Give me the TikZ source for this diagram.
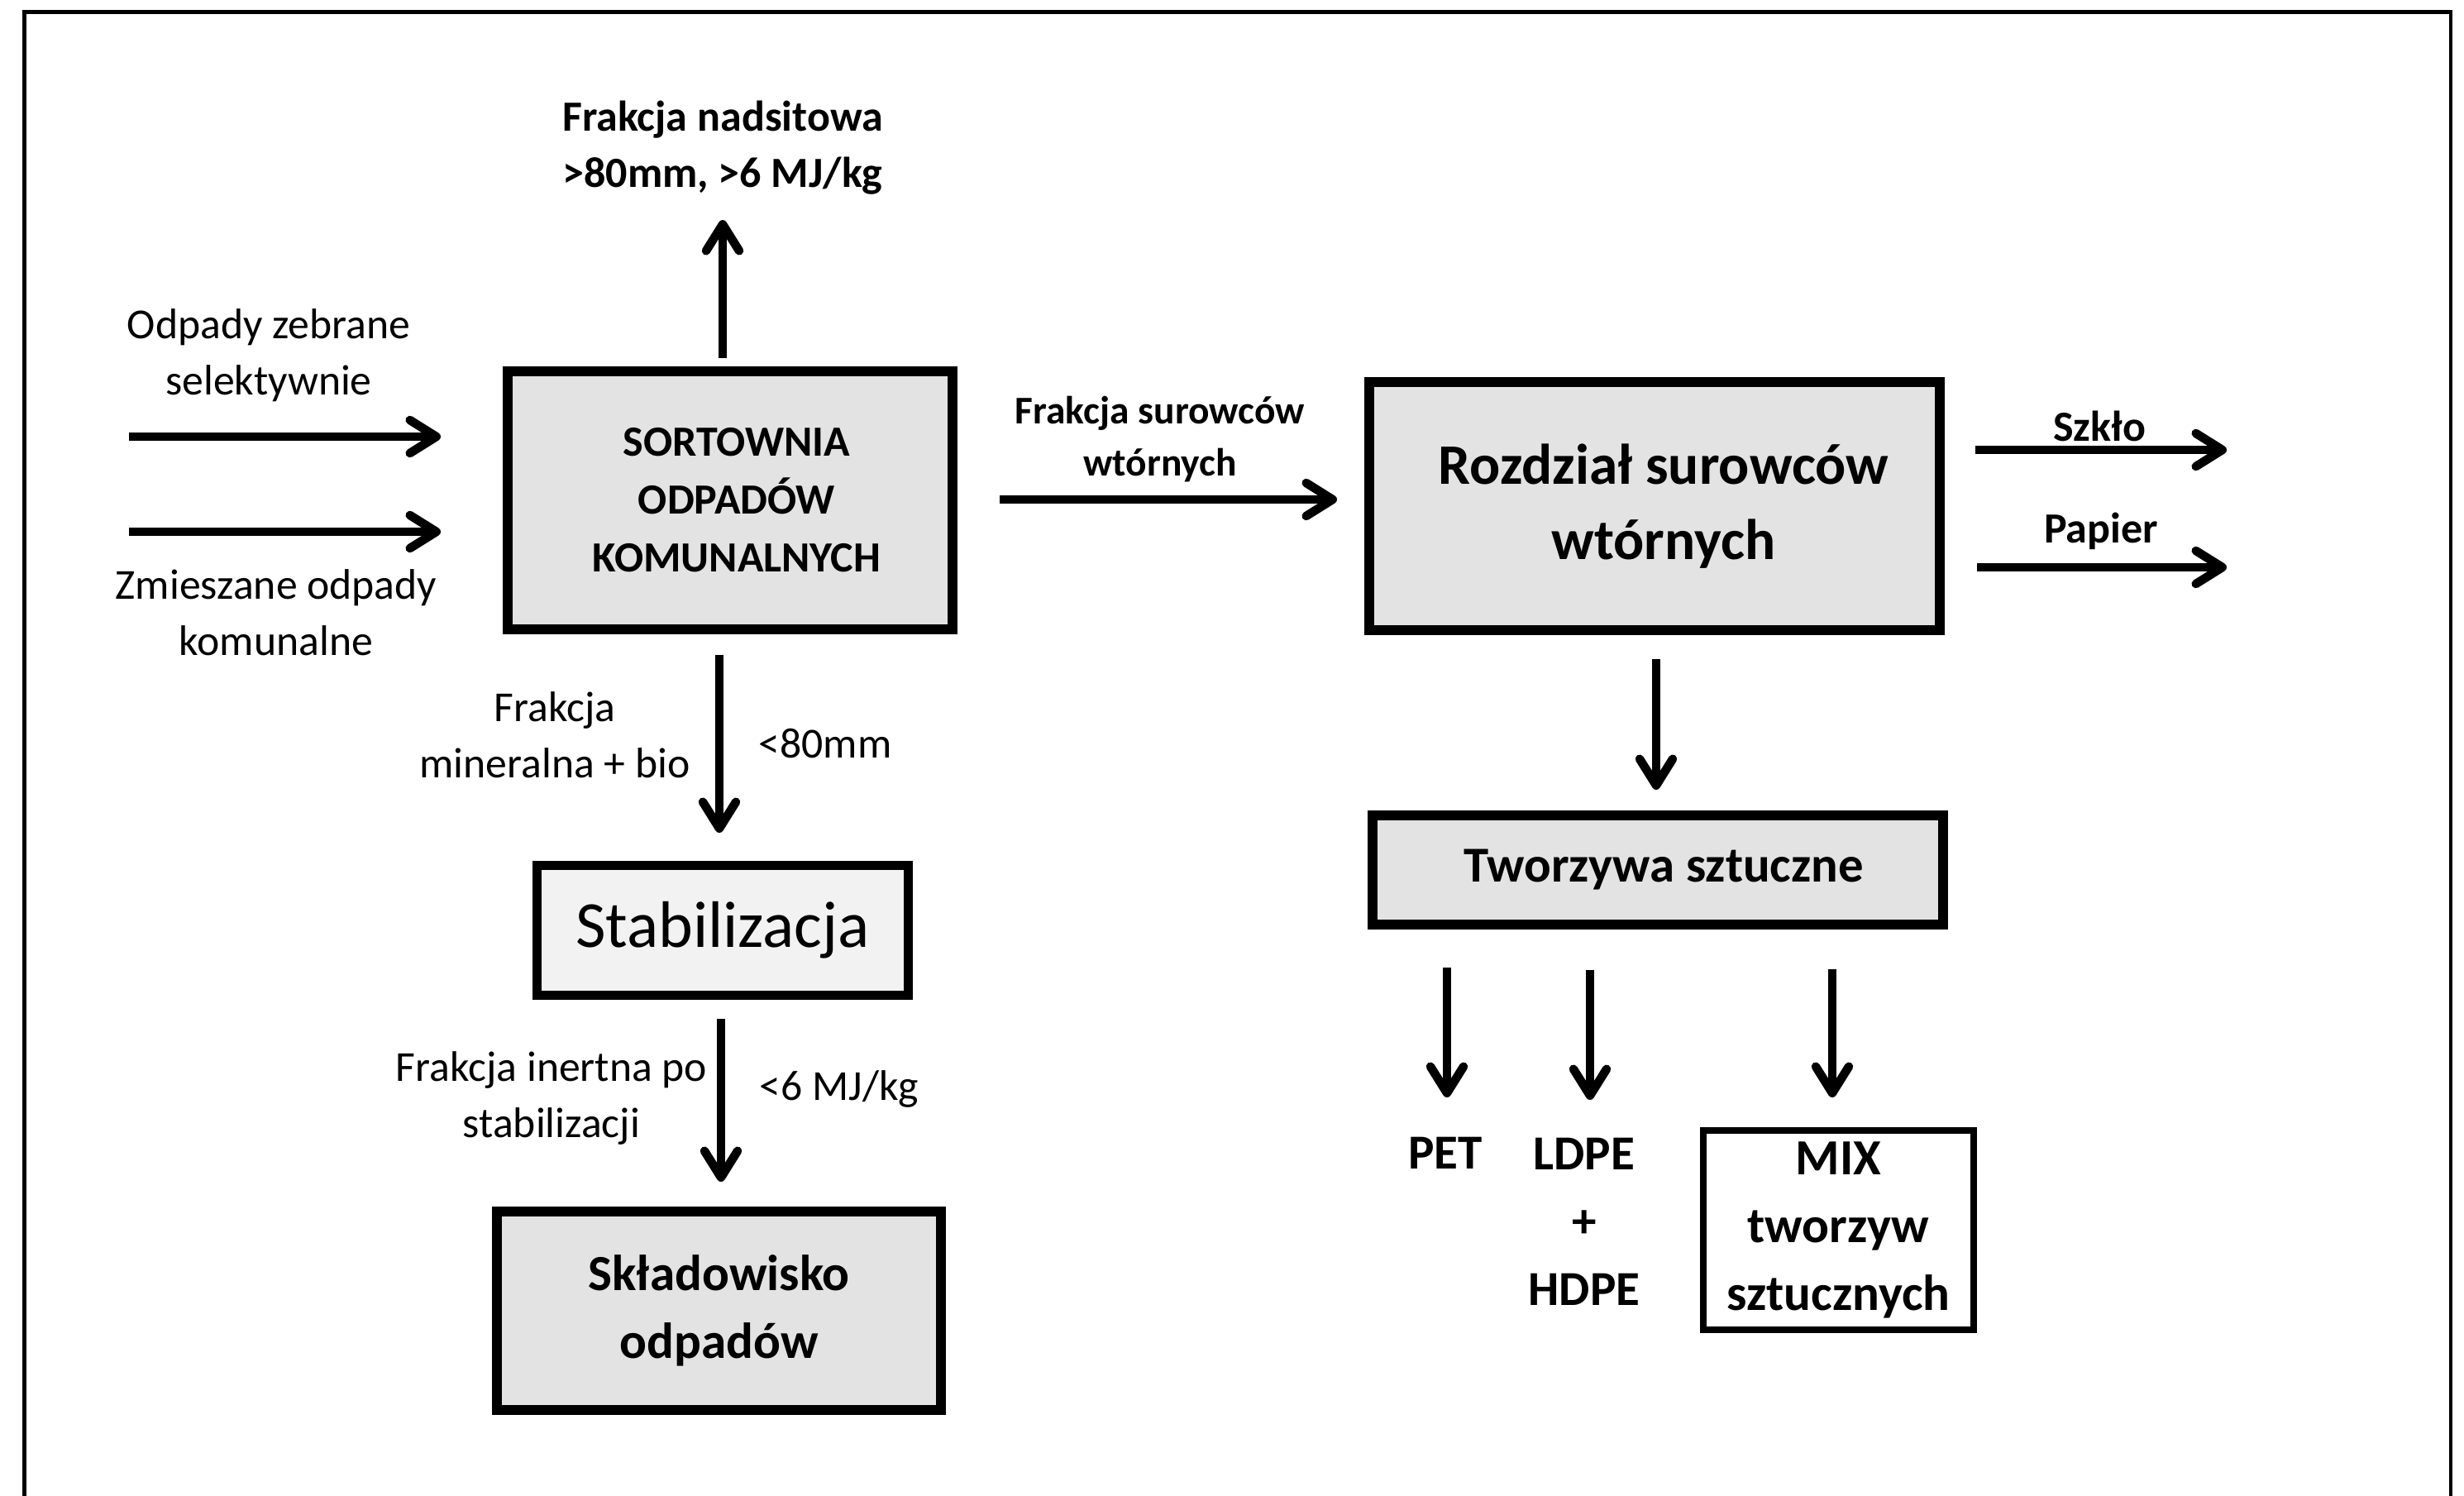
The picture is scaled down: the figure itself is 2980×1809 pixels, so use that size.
\documentclass[tikz,border=0pt]{standalone}
\usepackage{fontspec}
\setmainfont{Carlito}
\usetikzlibrary{arrows.meta}
\newcommand\fsz[2]{\fontsize{#1}{#2}\selectfont}
\newcommand\shiftR[1]{\hspace*{#1}}
\definecolor{boxgray}{HTML}{E3E3E3}
\definecolor{boxlight}{HTML}{F2F2F2}
\begin{document}
\begin{tikzpicture}[x=0.01cm,y=-0.01cm,
  arr/.style={line width=0.105cm,-{Straight Barb[length=0.32cm,width=0.4cm,round]}},
  lbl/.style={inner sep=0pt,align=center},
  procbox/.style={draw,line width=0.12cm,fill=boxgray,inner sep=0pt,align=center},
]
\useasboundingbox (0,0) rectangle (2980,1809);
% outer frame (open at bottom)
\draw[line width=0.045cm] (29.5,1809) -- (29.5,14.5) -- (2964,14.5) -- (2964,1809);

% boxes
\node[procbox,minimum width=5.38cm,minimum height=3.12cm,font=\bfseries\fsz{14.8pt}{19.9pt}] (sort) at (883,605)
  {\shiftR{0.16cm}SORTOWNIA\\\shiftR{0.16cm}ODPADÓW\\\shiftR{0.16cm}KOMUNALNYCH};
\node[procbox,minimum width=6.9cm,minimum height=3.0cm,font=\bfseries\fsz{19.7pt}{26pt}] (rozd) at (2001,612)
  {\shiftR{0.22cm}Rozdział surowców\\\shiftR{0.22cm}wtórnych};
\node[procbox,minimum width=6.9cm,minimum height=1.31cm,font=\bfseries\fsz{17.3pt}{20pt}] (tworz) at (2005,1052)
  {\shiftR{0.14cm}Tworzywa sztuczne};
\node[procbox,fill=boxlight,line width=0.11cm,minimum width=4.48cm,minimum height=1.56cm,font=\fsz{22.6pt}{26pt}] (stab) at (874,1125)
  {Stabilizacja};
\node[procbox,minimum width=5.37cm,minimum height=2.4cm,font=\bfseries\fsz{17.4pt}{23.3pt}] (sklad) at (869.5,1585)
  {Składowisko\\odpadów};
\node[procbox,fill=white,line width=0.08cm,minimum width=3.27cm,minimum height=2.41cm,font=\bfseries\fsz{17.4pt}{23.3pt}] (mix) at (2223.5,1487.5)
  {MIX\\tworzyw\\sztucznych};

% labels
\node[lbl,font=\bfseries\fsz{14.8pt}{19.35pt}] (nad) at (874,179) {Frakcja nadsitowa\\>80mm, >6 MJ/kg};
\node[lbl,font=\fsz{14.7pt}{19.35pt}] (sel) at (325,430) {Odpady zebrane\\selektywnie};
\node[lbl,font=\fsz{14.7pt}{19.35pt}] (zmi) at (334,741) {Zmieszane odpady\\komunalne};
\node[lbl,font=\bfseries\fsz{13.5pt}{17.9pt}] (fsur) at (1403,531) {Frakcja surowców\\wtórnych};
\node[lbl,font=\bfseries\fsz{14.8pt}{18pt}] (szklo) at (2539,515) {Szkło};
\node[lbl,font=\bfseries\fsz{14.8pt}{18pt}] (papier) at (2541,642) {Papier};
\node[lbl,font=\fsz{14.7pt}{19.35pt}] (fmin) at (671,889) {Frakcja\\mineralna + bio};
\node[lbl,font=\fsz{14.7pt}{18pt}] (l80) at (998,899) {<80mm};
\node[lbl,font=\fsz{14.7pt}{19.6pt}] (fin) at (667,1328) {Frakcja inertna po\\stabilizacji};
\node[lbl,font=\fsz{14.7pt}{18pt}] (l6) at (1015,1317) {<6 MJ/kg};
\node[lbl,font=\bfseries\fsz{16.8pt}{20pt}] (pet) at (1748,1394) {PET};
\node[lbl,font=\bfseries\fsz{16.8pt}{23.3pt}] (ldpe) at (1916,1477) {LDPE\\+\\HDPE};

% arrow end points
\coordinate (upA) at (874,433);   \coordinate (upB) at (874,266);
\coordinate (in1A) at (156,528);  \coordinate (in1B) at (533,528);
\coordinate (in2A) at (156,643);  \coordinate (in2B) at (533,643);
\coordinate (surA) at (1209,604); \coordinate (surB) at (1617,604);
\coordinate (szA) at (2389,544);  \coordinate (szB) at (2693,544);
\coordinate (paA) at (2391,686);  \coordinate (paB) at (2693,686);
\coordinate (rdA) at (2003,797);  \coordinate (rdB) at (2003,955);
\coordinate (sdA) at (870,792);   \coordinate (sdB) at (870,1007);
\coordinate (stA) at (872,1232);  \coordinate (stB) at (872,1429);
\coordinate (petA) at (1750,1170); \coordinate (petB) at (1750,1327);
\coordinate (ldA) at (1923,1173); \coordinate (ldB) at (1923,1330);
\coordinate (mxA) at (2216,1172); \coordinate (mxB) at (2216,1327);

\draw[arr] (upA) -- (upB);
\draw[arr] (in1A) -- (in1B);
\draw[arr] (in2A) -- (in2B);
\draw[arr] (surA) -- (surB);
\draw[arr] (szA) -- (szB);
\draw[arr] (paA) -- (paB);
\draw[arr] (rdA) -- (rdB);
\draw[arr] (sdA) -- (sdB);
\draw[arr] (stA) -- (stB);
\draw[arr] (petA) -- (petB);
\draw[arr] (ldA) -- (ldB);
\draw[arr] (mxA) -- (mxB);
\end{tikzpicture}
\end{document}
